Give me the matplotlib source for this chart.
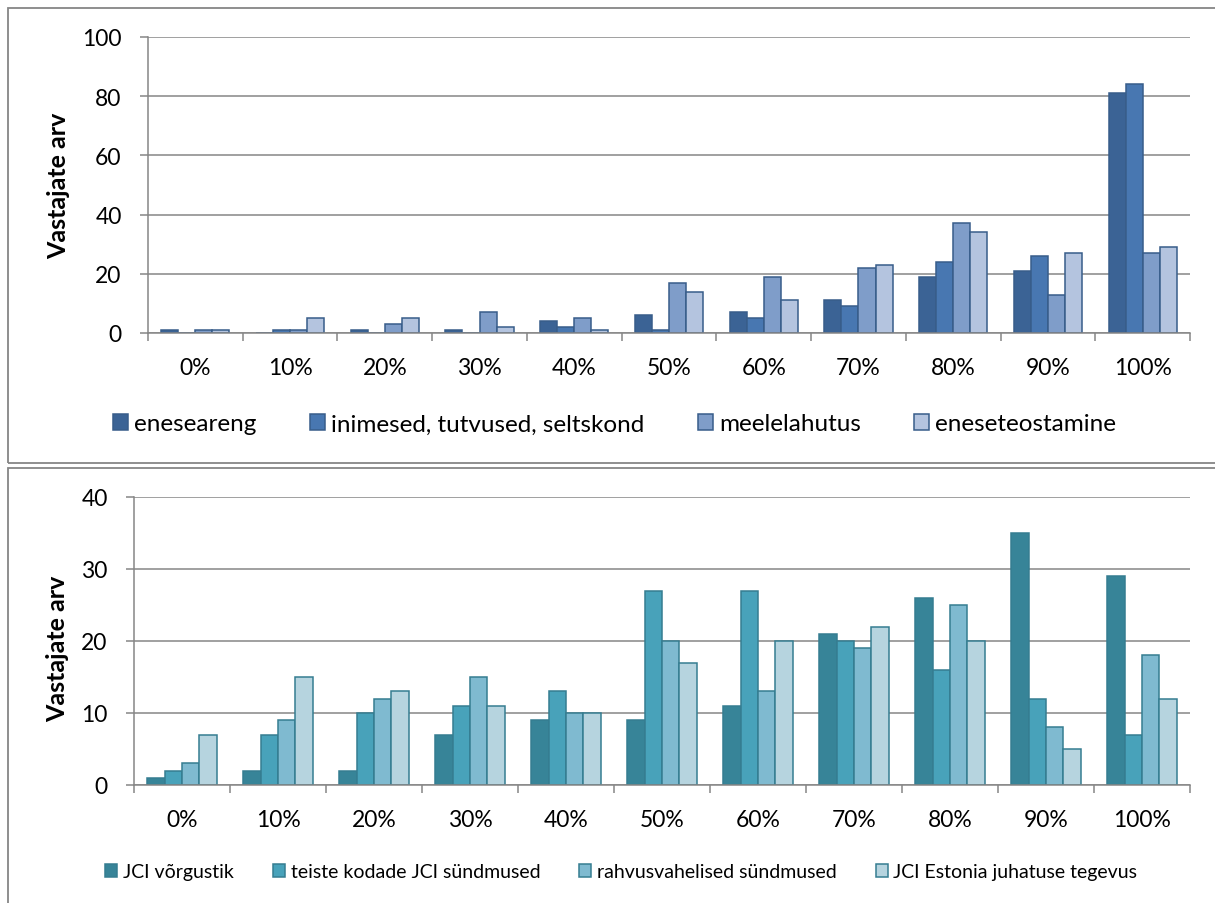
import numpy as np
import matplotlib
matplotlib.use("Agg")
import matplotlib.pyplot as plt
from matplotlib.patches import Rectangle

plt.rcParams['font.family'] = ['Lato', 'DejaVu Sans']

categories = ['0%', '10%', '20%', '30%', '40%', '50%', '60%', '70%', '80%', '90%', '100%']

# top panel: motivation
top_labels = ['eneseareng', 'inimesed, tutvused, seltskond', 'meelelahutus', 'eneseteostamine']
eneseareng = [1, 0, 1, 1, 4, 6, 7, 11, 19, 21, 81]
inimesed = [0, 1, 0, 0, 2, 1, 5, 9, 24, 26, 84]
meelelahutus = [1, 1, 3, 7, 5, 17, 19, 22, 37, 13, 27]
eneseteostamine = [1, 5, 5, 2, 1, 14, 11, 23, 34, 27, 29]
top_colors = ['#3b6395', '#4877b1', '#7f9dc9', '#b4c4df']
top_edge = '#385d8a'

# bottom panel: JCI activities
bot_labels = ['JCI võrgustik', 'teiste kodade JCI sündmused',
              'rahvusvahelised sündmused', 'JCI Estonia juhatuse tegevus']
vorgustik = [1, 2, 2, 7, 9, 9, 11, 21, 26, 35, 29]
teiste_kodade = [2, 7, 10, 11, 13, 27, 27, 20, 16, 12, 7]
rahvusvahelised = [3, 9, 12, 15, 10, 20, 13, 19, 25, 8, 18]
juhatus = [7, 15, 13, 11, 10, 17, 20, 22, 20, 5, 12]
bot_colors = ['#378498', '#48a2ba', '#7fbad0', '#b6d4df']
bot_edge = '#357d91'

W, H = 1215, 904
fig = plt.figure(figsize=(W / 100, H / 100), dpi=100)

grey = '#868686'

# chart area frames
fig.patches.append(Rectangle((8 / W, 1 - 464 / H), 1.1, 455 / H, transform=fig.transFigure,
                             fill=False, edgecolor=grey, lw=1.3))
fig.patches.append(Rectangle((8 / W, -0.1), 1.1, 0.1 + 1 - 469 / H, transform=fig.transFigure,
                             fill=False, edgecolor=grey, lw=1.3))


def panel(rect, series, colors, edge, ymax, ystep, label_xy):
    ax = fig.add_axes(rect)
    x = np.arange(len(categories))
    w = 0.18
    for i, (vals, c) in enumerate(zip(series, colors)):
        ax.bar(x + (i - 1.5) * w, vals, width=w, color=c, edgecolor=edge,
               linewidth=1.1, zorder=3)
    ax.set_xlim(-0.5, len(categories) - 0.5)
    ax.set_ylim(0, ymax)
    ax.set_yticks(np.arange(0, ymax + 1, ystep))
    ax.set_xticks(x)
    ax.set_xticklabels(categories)
    ax.set_xticks(np.arange(-0.5, len(categories)), minor=True)
    ax.tick_params(axis='x', which='major', length=0, pad=17, labelsize=16.5)
    ax.tick_params(axis='x', which='minor', length=6, width=1.1, color=grey, direction='out')
    ax.tick_params(axis='y', length=6, width=1.1, color=grey, pad=13, labelsize=16.5)
    ax.grid(axis='y', color=grey, lw=1.1, zorder=0)
    for s in ('top', 'right'):
        ax.spines[s].set_visible(False)
    for s in ('left', 'bottom'):
        ax.spines[s].set_color(grey)
        ax.spines[s].set_linewidth(1.1)
        ax.spines[s].set_zorder(4)
    ax.set_ylabel('Vastajate arv', fontsize=18, fontweight='bold')
    ax.yaxis.set_label_coords(*label_xy)
    return ax


ax1 = panel([148 / W, 1 - 334 / H, 1042 / W, 296 / H],
            [eneseareng, inimesed, meelelahutus, eneseteostamine],
            top_colors, top_edge, 100, 20, (-0.075, 0.5))
ax2 = panel([134 / W, 1 - 786 / H, 1056 / W, 288 / H],
            [vorgustik, teiste_kodade, rahvusvahelised, juhatus],
            bot_colors, bot_edge, 40, 10, (-0.061, 0.476))

fig.legend(ax1.containers, top_labels, loc='center left', bbox_to_anchor=(113 / W, 1 - 425 / H),
           ncol=4, frameon=False, fontsize=17.5, handlelength=0.62, handleheight=0.62,
           handletextpad=0.25, columnspacing=2.2, borderaxespad=0, borderpad=0)
fig.legend(ax2.containers, bot_labels, loc='center left', bbox_to_anchor=(105 / W, 1 - 873 / H),
           ncol=4, frameon=False, fontsize=14, handlelength=0.62, handleheight=0.62,
           handletextpad=0.3, columnspacing=2.0, borderaxespad=0, borderpad=0)

fig.savefig('out.png', dpi=100)
